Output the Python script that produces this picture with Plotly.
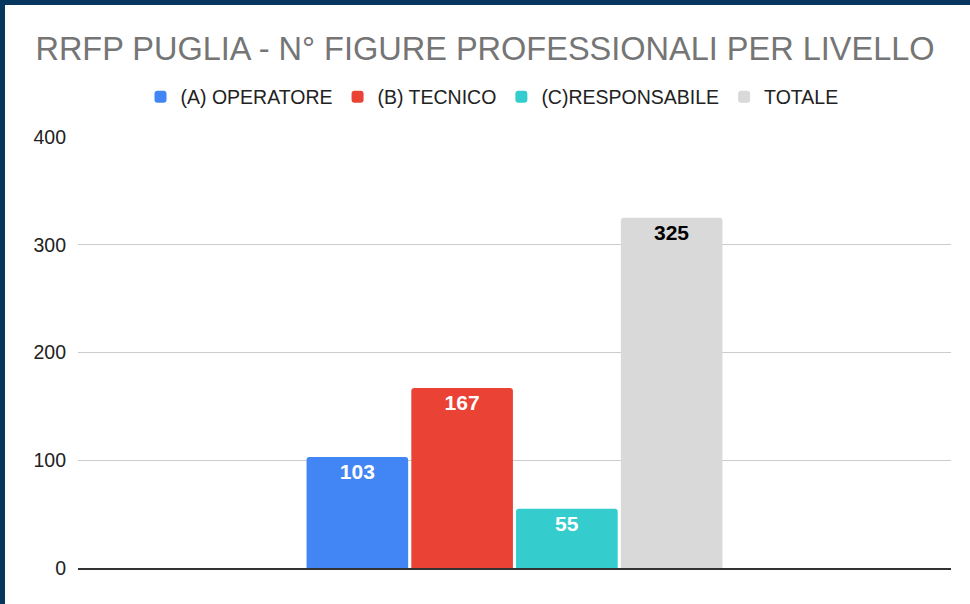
import plotly.graph_objects as go

categories = ["RRFP PUGLIA"]
series_names = ["(A) OPERATORE", "(B) TECNICO", "(C)RESPONSABILE", "TOTALE"]
series_values = [[103], [167], [55], [325]]
series_colors = ["#4285f4", "#ea4335", "#34cccc", "#d9d9d9"]
label_colors = ["#ffffff", "#ffffff", "#ffffff", "#000000"]
y_ticks = [0, 100, 200, 300, 400]

FONT = "Arial, Liberation Sans, sans-serif"

fig = go.Figure()
for name, vals, col, lcol in zip(series_names, series_values, series_colors, label_colors):
    fig.add_trace(go.Bar(
        x=categories, y=vals, name=name,
        marker=dict(color=col, line=dict(width=0), cornerradius=3),
        text=[str(v) for v in vals],
        textposition="inside", insidetextanchor="end",
        textfont=dict(family=FONT, size=21, color=lcol, weight="bold"),
        textangle=0,
    ))

W, H = 970, 604
L, R, T, B = 78, 19, 137, 36
pw, ph = W - L - R, H - T - B

def px_x(p):
    return (p - L) / pw

def px_y(p):
    return (H - B - p) / ph

border = "#07365f"
shapes = [
    dict(type="rect", xref="paper", yref="paper", x0=px_x(0), x1=px_x(5), y0=px_y(H), y1=px_y(0),
         fillcolor=border, line=dict(width=0), layer="above"),
    dict(type="rect", xref="paper", yref="paper", x0=px_x(0), x1=px_x(W), y0=px_y(5), y1=px_y(0),
         fillcolor=border, line=dict(width=0), layer="above"),
]

fig.update_layout(
    width=W, height=H,
    margin=dict(l=L, r=R, t=T, b=B, pad=0),
    paper_bgcolor="white", plot_bgcolor="white",
    barmode="group", bargap=0.52, bargroupgap=0.03,
    title=dict(text="RRFP PUGLIA - N° FIGURE PROFESSIONALI PER LIVELLO",
               x=0.5, xref="container", xanchor="center",
               y=1 - 49 / H, yref="container", yanchor="middle",
               font=dict(family=FONT, size=32.5, color="#757575")),
    legend=dict(orientation="h", x=px_x(492), xanchor="center", y=px_y(97), yanchor="middle",
                font=dict(family=FONT, size=19.5, color="#222222"), bgcolor="rgba(0,0,0,0)",
                itemwidth=30, tracegroupgap=0),
    xaxis=dict(showticklabels=False, showgrid=False, zeroline=False, showline=True,
               linecolor="#333333", linewidth=1.5, ticks=""),
    yaxis=dict(range=[0, 400], tickvals=y_ticks, showgrid=True, gridcolor="#cccccc", gridwidth=1,
               zeroline=False, showline=False, ticks="", ticklabelstandoff=11,
               tickfont=dict(family=FONT, size=19.5, color="#222222")),
    shapes=shapes,
    showlegend=True,
)

fig.write_html("out.html")
